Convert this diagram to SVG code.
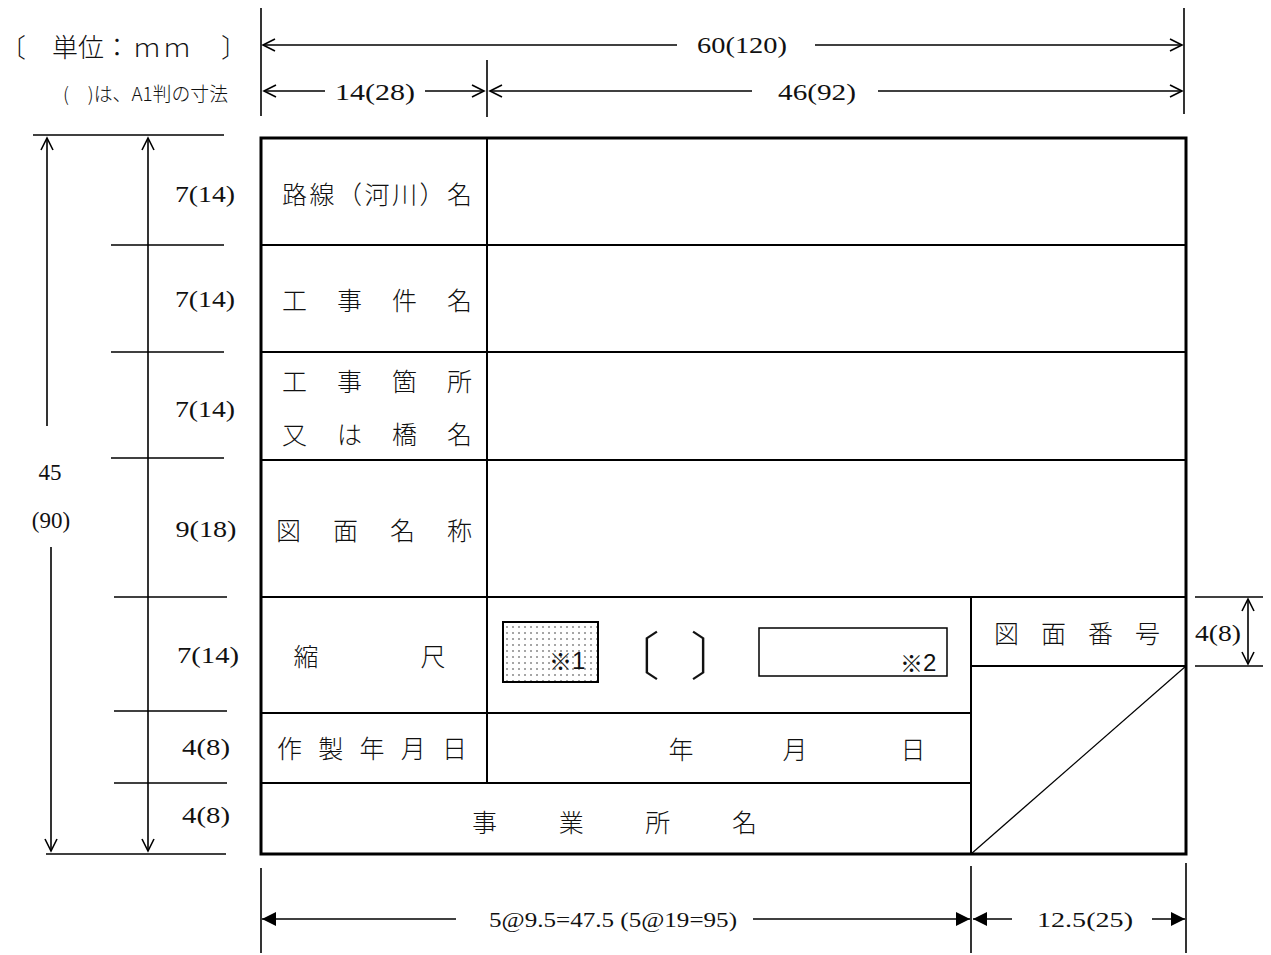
<svg xmlns="http://www.w3.org/2000/svg" width="1271" height="955" viewBox="0 0 1271 955">
<style>
.jp{font-family:"Noto Sans CJK JP","Noto Sans CJK SC",sans-serif;font-size:25px;font-weight:300;fill:#111;dominant-baseline:central}
.num{font-family:"Liberation Serif","DejaVu Serif",serif;font-size:23px;fill:#111;dominant-baseline:central}
.sans{font-family:"Liberation Sans","Noto Sans CJK JP",sans-serif;font-size:24px;fill:#111;dominant-baseline:central}
.dim{stroke:#000;stroke-width:1.6;fill:none}
.ext{stroke:#000;stroke-width:1.6;fill:none}
.thick{stroke:#000;stroke-width:3;fill:none}
.inner{stroke:#000;stroke-width:2;fill:none}
</style>
<defs>
<marker id="open" markerUnits="userSpaceOnUse" markerWidth="20" markerHeight="20" viewBox="-15 -10 20 20" refX="0" refY="0" orient="auto-start-reverse">
<path d="M-12,-6 L0,0 L-12,6" fill="none" stroke="#000" stroke-width="1.6"/>
</marker>
<marker id="solid" markerUnits="userSpaceOnUse" markerWidth="20" markerHeight="20" viewBox="-15 -10 20 20" refX="0" refY="0" orient="auto-start-reverse">
<path d="M-14,-7 L0,0 L-14,7 Z" fill="#000"/>
</marker>
<pattern id="dots" patternUnits="userSpaceOnUse" width="6" height="6">
<circle cx="3" cy="3" r="0.8" fill="#333"/>
</pattern>
</defs>
<rect width="1271" height="955" fill="#fff"/>

<g id="header">
<text class="jp" y="45" style="font-size:26px"><tspan x="0">〔</tspan><tspan x="52">単位</tspan><tspan x="104">：</tspan><tspan x="134">ｍ</tspan><tspan x="164">ｍ</tspan><tspan x="221">〕</tspan></text>
<text class="num" x="63" y="92" textLength="165" lengthAdjust="spacingAndGlyphs" style="font-family:'Noto Sans CJK JP',sans-serif;font-size:19px;font-weight:300">(　)は、A1判の寸法</text>
</g>

<g id="connectors">
<line class="ext" x1="261" y1="8" x2="261" y2="116"/>
<line class="ext" x1="1184" y1="8" x2="1184" y2="114"/>
<line class="ext" x1="487" y1="60" x2="487" y2="117"/>
<line class="dim" x1="677" y1="45" x2="263" y2="45" marker-end="url(#open)"/>
<line class="dim" x1="815" y1="45" x2="1182" y2="45" marker-end="url(#open)"/>
<line class="dim" x1="325" y1="91" x2="264" y2="91" marker-end="url(#open)"/>
<line class="dim" x1="425" y1="91" x2="484" y2="91" marker-end="url(#open)"/>
<line class="dim" x1="752" y1="91" x2="490" y2="91" marker-end="url(#open)"/>
<line class="dim" x1="878" y1="91" x2="1182" y2="91" marker-end="url(#open)"/>
<line class="ext" x1="33" y1="135" x2="224" y2="135"/>
<line class="ext" x1="46" y1="854" x2="226" y2="854"/>
<line class="ext" x1="111" y1="245" x2="224" y2="245"/>
<line class="ext" x1="111" y1="352" x2="224" y2="352"/>
<line class="ext" x1="111" y1="458" x2="224" y2="458"/>
<line class="ext" x1="114" y1="597" x2="227" y2="597"/>
<line class="ext" x1="114" y1="711" x2="227" y2="711"/>
<line class="ext" x1="114" y1="783" x2="227" y2="783"/>
<line class="dim" x1="47" y1="426" x2="47" y2="138" marker-end="url(#open)"/>
<line class="dim" x1="51" y1="547" x2="51" y2="851" marker-end="url(#open)"/>
<line class="dim" x1="148" y1="138" x2="148" y2="851" marker-start="url(#open)" marker-end="url(#open)"/>
<line class="ext" x1="1195" y1="597" x2="1263" y2="597"/>
<line class="ext" x1="1195" y1="666" x2="1263" y2="666"/>
<line class="dim" x1="1248" y1="599" x2="1248" y2="664" marker-start="url(#open)" marker-end="url(#open)"/>
<line class="ext" x1="261" y1="868" x2="261" y2="953"/>
<line class="ext" x1="971" y1="866" x2="971" y2="953"/>
<line class="ext" x1="1186" y1="863" x2="1186" y2="953"/>
<line class="dim" x1="456" y1="919" x2="262" y2="919" marker-end="url(#solid)"/>
<line class="dim" x1="753" y1="919" x2="970" y2="919" marker-end="url(#solid)"/>
<line class="dim" x1="1012" y1="919" x2="973" y2="919" marker-end="url(#solid)"/>
<line class="dim" x1="1152" y1="919" x2="1185" y2="919" marker-end="url(#solid)"/>
</g>

<g id="dim-labels">
<text class="num" x="742" y="45" text-anchor="middle" textLength="90" lengthAdjust="spacingAndGlyphs">60(120)</text>
<text class="num" x="375" y="92" text-anchor="middle" textLength="80" lengthAdjust="spacingAndGlyphs">14(28)</text>
<text class="num" x="817" y="92" text-anchor="middle" textLength="78" lengthAdjust="spacingAndGlyphs">46(92)</text>
<text class="num" x="205" y="194" text-anchor="middle" textLength="60" lengthAdjust="spacingAndGlyphs">7(14)</text>
<text class="num" x="205" y="299" text-anchor="middle" textLength="60" lengthAdjust="spacingAndGlyphs">7(14)</text>
<text class="num" x="205" y="409" text-anchor="middle" textLength="60" lengthAdjust="spacingAndGlyphs">7(14)</text>
<text class="num" x="206" y="529" text-anchor="middle" textLength="61" lengthAdjust="spacingAndGlyphs">9(18)</text>
<text class="num" x="208" y="655" text-anchor="middle" textLength="62" lengthAdjust="spacingAndGlyphs">7(14)</text>
<text class="num" x="206" y="747" text-anchor="middle" textLength="48" lengthAdjust="spacingAndGlyphs">4(8)</text>
<text class="num" x="206" y="815" text-anchor="middle" textLength="48" lengthAdjust="spacingAndGlyphs">4(8)</text>
<text class="num" x="50" y="472" text-anchor="middle">45</text>
<text class="num" x="51" y="520" text-anchor="middle">(90)</text>
<text class="num" x="1218" y="633" text-anchor="middle" textLength="46" lengthAdjust="spacingAndGlyphs">4(8)</text>
<text class="num" x="613" y="920" text-anchor="middle" textLength="248" lengthAdjust="spacingAndGlyphs" style="font-size:21px">5@9.5=47.5 (5@19=95)</text>
<text class="num" x="1085" y="920" text-anchor="middle" textLength="96" lengthAdjust="spacingAndGlyphs" style="font-size:21px">12.5(25)</text>
</g>

<g id="table-frame">
<rect class="thick" x="261" y="138" width="925" height="716"/>
<line class="inner" x1="261" y1="245" x2="1186" y2="245"/>
<line class="inner" x1="261" y1="352" x2="1186" y2="352"/>
<line class="inner" x1="261" y1="460" x2="1186" y2="460"/>
<line class="inner" x1="261" y1="597" x2="1186" y2="597"/>
<line class="inner" x1="261" y1="713" x2="971" y2="713"/>
<line class="inner" x1="261" y1="783" x2="971" y2="783"/>
<line class="inner" x1="487" y1="138" x2="487" y2="783"/>
<line class="inner" x1="971" y1="597" x2="971" y2="854"/>
<line class="inner" x1="971" y1="666" x2="1186" y2="666"/>
<line stroke="#000" stroke-width="1.2" x1="971" y1="854" x2="1186" y2="666"/>
</g>

<g id="node-route">
<text class="jp" x="282" y="193" textLength="190" lengthAdjust="spacing">路線（河川）名</text>
</g>
<g id="node-work-name">
<text class="jp" x="282" y="299" textLength="190" lengthAdjust="spacing">工事件名</text>
</g>
<g id="node-work-place">
<text class="jp" x="282" y="380" textLength="190" lengthAdjust="spacing">工事箇所</text>
<text class="jp" x="282" y="433" textLength="190" lengthAdjust="spacing">又は橋名</text>
</g>
<g id="node-drawing-name">
<text class="jp" x="276" y="529" textLength="196" lengthAdjust="spacing">図面名称</text>
</g>
<g id="node-scale">
<text class="jp" x="306" y="655" text-anchor="middle">縮</text>
<text class="jp" x="433" y="655" text-anchor="middle">尺</text>
<rect x="503" y="622" width="95" height="60" fill="url(#dots)" stroke="#000" stroke-width="2"/>
<text class="sans" x="549" y="660"><tspan style="font-family:'Noto Sans CJK JP',sans-serif;font-size:23px">※</tspan>1</text>
<text class="jp" x="608" y="652" style="font-size:52px;font-weight:200">〔</text>
<text class="jp" x="690" y="652" style="font-size:52px;font-weight:200">〕</text>
<rect x="759" y="628" width="188" height="48" fill="none" stroke="#000" stroke-width="1.5"/>
<text class="sans" x="900" y="662"><tspan style="font-family:'Noto Sans CJK JP',sans-serif;font-size:23px">※</tspan>2</text>
</g>
<g id="node-date">
<text class="jp" x="277" y="747" textLength="190" lengthAdjust="spacing">作製年月日</text>
<text class="jp" x="681" y="748" text-anchor="middle">年</text>
<text class="jp" x="795" y="748" text-anchor="middle">月</text>
<text class="jp" x="913" y="748" text-anchor="middle">日</text>
</g>
<g id="node-office">
<text class="jp" x="472" y="821" textLength="285" lengthAdjust="spacing">事業所名</text>
</g>
<g id="node-drawing-number">
<text class="jp" x="994" y="632" textLength="166" lengthAdjust="spacing">図面番号</text>
</g>
</svg>
